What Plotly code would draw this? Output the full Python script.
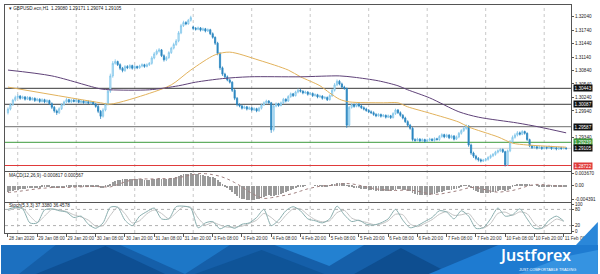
import plotly.graph_objects as go
from plotly.subplots import make_subplots

# ---------------- data (H1 bars, index 0 = 28 Jan 20:00) ----------------
bars = list(range(230))

opens = [
 1.2990, 1.2998, 1.3008, 1.3018, 1.3024, 1.3027, 1.3022, 1.3025, 1.3020, 1.3024,
 1.3019, 1.3022, 1.3017, 1.3020, 1.3015, 1.3019, 1.3014, 1.3017, 1.3010, 1.3002,
 1.2994, 1.2990, 1.2999, 1.3008, 1.3014, 1.3019, 1.3014, 1.3018, 1.3015, 1.3018,
 1.3013, 1.3016, 1.3012, 1.3015, 1.3011, 1.3014, 1.3009, 1.3004, 1.2993, 1.2982,
 1.2996, 1.3009, 1.3038, 1.3072, 1.3100, 1.3104, 1.3097, 1.3089, 1.3084, 1.3093,
 1.3090, 1.3095, 1.3089, 1.3093, 1.3090, 1.3094, 1.3097, 1.3093, 1.3097, 1.3100,
 1.3112, 1.3121, 1.3127, 1.3130, 1.3117, 1.3108, 1.3113, 1.3124, 1.3134, 1.3142,
 1.3150, 1.3168, 1.3184, 1.3191, 1.3188, 1.3196, 1.3181, 1.3178, 1.3176, 1.3179,
 1.3174, 1.3177, 1.3172, 1.3175, 1.3166, 1.3158, 1.3145, 1.3122, 1.3090, 1.3076,
 1.3070, 1.3063, 1.3058, 1.3040, 1.3022, 1.3008, 1.3005, 1.3000, 1.3003, 1.2998,
 1.3001, 1.2996, 1.2999, 1.2994, 1.3000, 1.3007, 1.3012, 1.3016, 1.3012, 1.2952,
 1.3005, 1.3010, 1.3006, 1.3012, 1.3020, 1.3016, 1.3026, 1.3032, 1.3028, 1.3036,
 1.3040, 1.3038, 1.3034, 1.3036, 1.3031, 1.3033, 1.3028, 1.3030, 1.3025, 1.3027,
 1.3022, 1.3024, 1.3019, 1.3028, 1.3040, 1.3052, 1.3060, 1.3054, 1.3047, 1.3044,
 1.2962, 1.3002, 1.3008, 1.3004, 1.3009, 1.3005, 1.3001, 1.2998, 1.2995, 1.2992,
 1.2990, 1.2986, 1.2983, 1.2986, 1.2982, 1.2984, 1.2980, 1.2983, 1.2979, 1.2988,
 1.2996, 1.2990, 1.2984, 1.2978, 1.2970, 1.2962, 1.2955, 1.2930, 1.2928, 1.2931,
 1.2927, 1.2930, 1.2926, 1.2929, 1.2931, 1.2928, 1.2932, 1.2930, 1.2937, 1.2941,
 1.2936, 1.2940, 1.2934, 1.2938, 1.2931, 1.2936, 1.2944, 1.2950, 1.2955, 1.2960,
 1.2918, 1.2900, 1.2893, 1.2888, 1.2885, 1.2882, 1.2884, 1.2886, 1.2890, 1.2894,
 1.2897, 1.2902, 1.2905, 1.2908, 1.2903, 1.2874, 1.2905, 1.2925, 1.2935, 1.2940,
 1.2945, 1.2942, 1.2948, 1.2944, 1.2930, 1.2916, 1.2912, 1.2914, 1.2911, 1.2913,
 1.2910, 1.2913, 1.2911, 1.2914, 1.2910, 1.2912, 1.2909, 1.2912, 1.2910, 1.2911]

highs = [
 1.3002, 1.3011, 1.3021, 1.3028, 1.3031, 1.3029, 1.3028, 1.3027, 1.3027, 1.3026,
 1.3025, 1.3024, 1.3023, 1.3022, 1.3022, 1.3021, 1.3020, 1.3019, 1.3013, 1.3005,
 1.2997, 1.3002, 1.3011, 1.3017, 1.3023, 1.3021, 1.3021, 1.3020, 1.3021, 1.3020,
 1.3019, 1.3018, 1.3018, 1.3017, 1.3017, 1.3016, 1.3012, 1.3007, 1.2996, 1.3000,
 1.3012, 1.3042, 1.3077, 1.3105, 1.3109, 1.3106, 1.3100, 1.3092, 1.3096, 1.3096,
 1.3098, 1.3097, 1.3096, 1.3095, 1.3097, 1.3100, 1.3099, 1.3100, 1.3103, 1.3116,
 1.3125, 1.3131, 1.3134, 1.3132, 1.3120, 1.3116, 1.3127, 1.3137, 1.3146, 1.3154,
 1.3172, 1.3188, 1.3195, 1.3194, 1.3199, 1.3206, 1.3184, 1.3181, 1.3182, 1.3181,
 1.3180, 1.3179, 1.3178, 1.3177, 1.3169, 1.3160, 1.3148, 1.3125, 1.3093, 1.3079,
 1.3073, 1.3066, 1.3060, 1.3043, 1.3025, 1.3011, 1.3008, 1.3006, 1.3005, 1.3004,
 1.3003, 1.3002, 1.3001, 1.3003, 1.3010, 1.3015, 1.3019, 1.3018, 1.3014, 1.3008,
 1.3013, 1.3012, 1.3015, 1.3023, 1.3022, 1.3029, 1.3035, 1.3034, 1.3039, 1.3044,
 1.3043, 1.3040, 1.3039, 1.3038, 1.3036, 1.3035, 1.3033, 1.3032, 1.3030, 1.3029,
 1.3027, 1.3026, 1.3031, 1.3043, 1.3056, 1.3064, 1.3063, 1.3057, 1.3050, 1.3046,
 1.3005, 1.3011, 1.3010, 1.3012, 1.3011, 1.3008, 1.3004, 1.3001, 1.2998, 1.2995,
 1.2993, 1.2989, 1.2989, 1.2988, 1.2987, 1.2986, 1.2986, 1.2985, 1.2991, 1.2999,
 1.2998, 1.2993, 1.2987, 1.2981, 1.2973, 1.2965, 1.2958, 1.2933, 1.2934, 1.2933,
 1.2933, 1.2932, 1.2932, 1.2934, 1.2933, 1.2935, 1.2934, 1.2940, 1.2944, 1.2943,
 1.2943, 1.2942, 1.2941, 1.2940, 1.2939, 1.2947, 1.2953, 1.2959, 1.2964, 1.2962,
 1.2921, 1.2903, 1.2896, 1.2891, 1.2888, 1.2887, 1.2889, 1.2893, 1.2897, 1.2900,
 1.2905, 1.2908, 1.2911, 1.2910, 1.2905, 1.2908, 1.2929, 1.2939, 1.2944, 1.2949,
 1.2948, 1.2951, 1.2950, 1.2946, 1.2932, 1.2918, 1.2917, 1.2916, 1.2916, 1.2915,
 1.2916, 1.2915, 1.2917, 1.2916, 1.2915, 1.2914, 1.2915, 1.2914, 1.2914, 1.2913]

lows = [
 1.2986, 1.2995, 1.3005, 1.3015, 1.3021, 1.3019, 1.3020, 1.3017, 1.3018, 1.3016,
 1.3017, 1.3014, 1.3015, 1.3012, 1.3013, 1.3011, 1.3012, 1.3007, 1.2998, 1.2990,
 1.2985, 1.2987, 1.2996, 1.3005, 1.3011, 1.3012, 1.3011, 1.3013, 1.3012, 1.3011,
 1.3010, 1.3010, 1.3009, 1.3009, 1.3008, 1.3007, 1.3001, 1.2989, 1.2976, 1.2979,
 1.2993, 1.3006, 1.3034, 1.3068, 1.3097, 1.3094, 1.3085, 1.3080, 1.3081, 1.3087,
 1.3087, 1.3086, 1.3087, 1.3087, 1.3088, 1.3091, 1.3090, 1.3091, 1.3094, 1.3097,
 1.3109, 1.3118, 1.3124, 1.3114, 1.3104, 1.3105, 1.3110, 1.3121, 1.3131, 1.3139,
 1.3147, 1.3165, 1.3181, 1.3185, 1.3186, 1.3193, 1.3174, 1.3173, 1.3174, 1.3171,
 1.3172, 1.3169, 1.3170, 1.3163, 1.3155, 1.3141, 1.3118, 1.3085, 1.3072, 1.3067,
 1.3060, 1.3055, 1.3036, 1.3018, 1.3004, 1.3002, 1.2997, 1.2998, 1.2995, 1.2996,
 1.2993, 1.2994, 1.2991, 1.2992, 1.2997, 1.3005, 1.3009, 1.3010, 1.2945, 1.2948,
 1.3002, 1.3003, 1.3004, 1.3009, 1.3013, 1.3014, 1.3023, 1.3025, 1.3026, 1.3033,
 1.3035, 1.3031, 1.3032, 1.3028, 1.3029, 1.3025, 1.3026, 1.3022, 1.3023, 1.3019,
 1.3020, 1.3016, 1.3017, 1.3025, 1.3037, 1.3049, 1.3051, 1.3044, 1.3041, 1.2956,
 1.2959, 1.2999, 1.3001, 1.3002, 1.3002, 1.2998, 1.2995, 1.2992, 1.2989, 1.2987,
 1.2983, 1.2980, 1.2981, 1.2979, 1.2980, 1.2977, 1.2978, 1.2976, 1.2977, 1.2985,
 1.2987, 1.2981, 1.2975, 1.2967, 1.2959, 1.2952, 1.2926, 1.2925, 1.2926, 1.2924,
 1.2925, 1.2923, 1.2924, 1.2926, 1.2926, 1.2925, 1.2928, 1.2927, 1.2934, 1.2933,
 1.2934, 1.2931, 1.2932, 1.2928, 1.2929, 1.2933, 1.2941, 1.2947, 1.2952, 1.2914,
 1.2896, 1.2889, 1.2884, 1.2881, 1.2879, 1.2880, 1.2881, 1.2883, 1.2887, 1.2891,
 1.2894, 1.2899, 1.2902, 1.2900, 1.2870, 1.2871, 1.2902, 1.2922, 1.2932, 1.2937,
 1.2939, 1.2940, 1.2941, 1.2927, 1.2913, 1.2909, 1.2910, 1.2908, 1.2909, 1.2907,
 1.2908, 1.2908, 1.2909, 1.2907, 1.2908, 1.2906, 1.2907, 1.2907, 1.2908, 1.2907]

closes = [
 1.2998, 1.3008, 1.3018, 1.3024, 1.3027, 1.3022, 1.3025, 1.3020, 1.3024, 1.3019,
 1.3022, 1.3017, 1.3020, 1.3015, 1.3019, 1.3014, 1.3017, 1.3010, 1.3002, 1.2994,
 1.2990, 1.2999, 1.3008, 1.3014, 1.3019, 1.3014, 1.3018, 1.3015, 1.3018, 1.3013,
 1.3016, 1.3012, 1.3015, 1.3011, 1.3014, 1.3009, 1.3004, 1.2993, 1.2982, 1.2996,
 1.3009, 1.3038, 1.3072, 1.3100, 1.3104, 1.3097, 1.3089, 1.3084, 1.3093, 1.3090,
 1.3095, 1.3089, 1.3093, 1.3090, 1.3094, 1.3097, 1.3093, 1.3097, 1.3100, 1.3112,
 1.3121, 1.3127, 1.3130, 1.3117, 1.3108, 1.3113, 1.3124, 1.3134, 1.3142, 1.3150,
 1.3168, 1.3184, 1.3191, 1.3188, 1.3196, 1.3202, 1.3178, 1.3176, 1.3179, 1.3174,
 1.3177, 1.3172, 1.3175, 1.3166, 1.3158, 1.3145, 1.3122, 1.3090, 1.3076, 1.3070,
 1.3063, 1.3058, 1.3040, 1.3022, 1.3008, 1.3005, 1.3000, 1.3003, 1.2998, 1.3001,
 1.2996, 1.2999, 1.2994, 1.3000, 1.3007, 1.3012, 1.3016, 1.3012, 1.2952, 1.3005,
 1.3010, 1.3006, 1.3012, 1.3020, 1.3016, 1.3026, 1.3032, 1.3028, 1.3036, 1.3040,
 1.3038, 1.3034, 1.3036, 1.3031, 1.3033, 1.3028, 1.3030, 1.3025, 1.3027, 1.3022,
 1.3024, 1.3019, 1.3028, 1.3040, 1.3052, 1.3060, 1.3054, 1.3047, 1.3044, 1.2962,
 1.3002, 1.3008, 1.3004, 1.3009, 1.3005, 1.3001, 1.2998, 1.2995, 1.2992, 1.2990,
 1.2986, 1.2983, 1.2986, 1.2982, 1.2984, 1.2980, 1.2983, 1.2979, 1.2988, 1.2996,
 1.2990, 1.2984, 1.2978, 1.2970, 1.2962, 1.2955, 1.2930, 1.2928, 1.2931, 1.2927,
 1.2930, 1.2926, 1.2929, 1.2931, 1.2928, 1.2932, 1.2930, 1.2937, 1.2941, 1.2936,
 1.2940, 1.2934, 1.2938, 1.2931, 1.2936, 1.2944, 1.2950, 1.2955, 1.2960, 1.2918,
 1.2900, 1.2893, 1.2888, 1.2885, 1.2882, 1.2884, 1.2886, 1.2890, 1.2894, 1.2897,
 1.2902, 1.2905, 1.2908, 1.2903, 1.2874, 1.2905, 1.2925, 1.2935, 1.2940, 1.2945,
 1.2942, 1.2948, 1.2944, 1.2930, 1.2916, 1.2912, 1.2914, 1.2911, 1.2913, 1.2910,
 1.2913, 1.2911, 1.2914, 1.2910, 1.2912, 1.2909, 1.2912, 1.2910, 1.2911, 1.2910]

# moving averages read at selected bars
ma_fast_x = [0, 38, 42, 58, 67, 75, 85, 91, 103, 115, 120, 128, 132, 136, 140,
             154, 160, 164, 173, 185, 189, 201, 207, 213, 229]
ma_fast_y = [1.3047, 1.3012, 1.3009, 1.3033, 1.3052, 1.3085, 1.3119, 1.3125, 1.3107,
             1.3085, 1.3070, 1.3050, 1.3034, 1.3020, 1.3014, 1.3012, 1.3012, 1.3003,
             1.2989, 1.2969, 1.2958, 1.2936, 1.2922, 1.2918, 1.2913]
ma_slow_x = [0, 18, 38, 42, 58, 70, 77, 88, 99, 120, 136, 142, 152, 160, 164, 173,
             185, 193, 209, 218, 229]
ma_slow_y = [1.3085, 1.3072, 1.3043, 1.3041, 1.3041, 1.3050, 1.3058, 1.3066, 1.3070,
             1.3070, 1.3072, 1.3069, 1.3061, 1.3050, 1.3041, 1.3023, 1.2992, 1.2980,
             1.2967, 1.2958, 1.2945]

# horizontal levels
level_dark = [1.30443, 1.30087]
level_gray = 1.29587
level_green = 1.29239
level_red = 1.28722
bid_price = 1.29105

# MACD (units of 1e-4)
macd_hist_e4 = [
 -19, -18, -16, -15, -13, -12, -11, -10, -9, -9,
 -8, -8, -7, -7, -6, -6, -6, -6, -7, -8,
 -9, -9, -8, -7, -6, -5, -5, -4, -4, -4,
 -4, -4, -4, -4, -4, -4, -5, -6, -8, -8,
 -6, -2, 4, 10, 14, 17, 18, 19, 20, 20,
 20, 20, 19, 19, 19, 19, 18, 18, 18, 19,
 20, 21, 22, 21, 20, 20, 21, 22, 24, 26,
 29, 32, 34, 35, 36, 37, 36, 35, 34, 33,
 32, 30, 29, 27, 25, 22, 17, 10, 4, -2,
 -8, -13, -20, -27, -33, -37, -40, -42, -43, -44,
 -44, -43, -42, -40, -37, -34, -31, -29, -33, -32,
 -30, -28, -26, -23, -21, -18, -14, -11, -8, -5,
 -3, -2, -1, 0, 0, 0, -1, -1, -1, -2,
 -2, -2, -1, 2, 5, 8, 9, 9, 9, 1,
 -3, -5, -7, -8, -9, -10, -11, -12, -13, -14,
 -15, -16, -16, -17, -17, -17, -17, -17, -15, -13,
 -12, -12, -13, -14, -16, -18, -23, -26, -28, -30,
 -30, -30, -29, -28, -27, -25, -23, -21, -19, -17,
 -15, -14, -13, -12, -10, -7, -4, -1, 1, -3,
 -8, -13, -17, -20, -23, -24, -24, -24, -23, -21,
 -19, -17, -15, -13, -17, -15, -10, -5, -1, 2,
 4, 5, 6, 5, 3, 1, 0, -1, -2, -2,
 -2, -3, -3, -3, -3, -3, -3, -3, -3, -3]
sample_x = list(range(0, 229, 3))
macd_sig_e4 = [
 -22, -20, -17, -14, -11, -9, -7, -7, -7, -6,
 -5, -4, -4, -5, -5, 2, 10, 16, 19, 19,
 19, 20, 20, 22, 26, 31, 35, 35, 32, 27,
 19, 8, -5, -20, -32, -40, -38, -34, -30, -25,
 -18, -11, -6, -2, -1, 1, 5, 4, 0, -5,
 -10, -13, -15, -16, -15, -15, -18, -23, -27, -27,
 -23, -19, -14, -8, -7, -12, -18, -21, -19, -16,
 -10, -3, 2, 2, 0, -2, -3]

# Stochastic (5,3,3)
stoch_k = [
 80, 88, 82, 30, 30, 78, 82, 75, 70, 50,
 55, 25, 10, 30, 88, 88, 40, 20, 55, 72,
 85, 45, 45, 90, 92, 85, 12, 30, 35, 8,
 20, 10, 25, 30, 50, 80, 20, 40, 75, 90,
 75, 45, 38, 30, 45, 92, 60, 35, 40, 25,
 22, 30, 45, 80, 40, 12, 20, 35, 50, 75,
 70, 45, 75, 55, 10, 12, 45, 85, 55, 60,
 82, 45, 10, 10, 40, 55, 37]
stoch_d = [
 75, 84, 85, 56, 32, 55, 80, 78, 72, 60,
 52, 40, 18, 20, 58, 88, 64, 30, 38, 64,
 78, 65, 45, 68, 90, 88, 48, 22, 32, 22,
 14, 15, 18, 28, 40, 65, 50, 30, 58, 82,
 82, 60, 42, 34, 38, 68, 76, 48, 38, 32,
 24, 26, 38, 62, 60, 26, 16, 28, 42, 62,
 72, 58, 60, 65, 32, 11, 28, 65, 70, 58,
 71, 64, 28, 10, 25, 44, 36]

date_bars = list(range(0, 229, 12))
date_labels = ["28 Jan 2020", "29 Jan 08:00", "29 Jan 20:00", "30 Jan 08:00", "30 Jan 20:00",
               "31 Jan 08:00", "31 Jan 20:00", "3 Feb 08:00", "3 Feb 20:00", "4 Feb 08:00",
               "4 Feb 20:00", "5 Feb 08:00", "5 Feb 20:00", "6 Feb 08:00", "6 Feb 20:00",
               "7 Feb 08:00", "7 Feb 20:00", "10 Feb 08:00", "10 Feb 20:00", "11 Feb 08:00"]
day_start_bars = [4, 28, 52, 76, 100, 124, 148, 172, 196, 220]
# price-axis labels (those hidden under the level boxes are left out)
price_ticks = [1.32040, 1.31740, 1.31440, 1.31140, 1.30840, 1.30540, 1.30240,
               1.29940, 1.29340]

assert len(opens) == len(highs) == len(lows) == len(closes) == len(macd_hist_e4) == 230
assert len(sample_x) == len(macd_sig_e4) == len(stoch_k) == len(stoch_d)

# ---------------- figure ----------------
FONT = "Liberation Sans"
PL, PR, PT, PB = 4, 573, 5, 233


def px(x):
    return (x - PL) / (PR - PL)


def py(y):
    return (PB - y) / (PB - PT)


fig = make_subplots(rows=3, cols=1, shared_xaxes=True, vertical_spacing=0)

fig.add_trace(go.Scatter(x=ma_fast_x, y=ma_fast_y, mode="lines", hoverinfo="skip",
                         line=dict(color="#e2b25c", width=1, shape="spline", smoothing=0.8)),
              row=1, col=1)
fig.add_trace(go.Scatter(x=ma_slow_x, y=ma_slow_y, mode="lines", hoverinfo="skip",
                         line=dict(color="#5f4278", width=1, shape="spline", smoothing=0.8)),
              row=1, col=1)
fig.add_trace(go.Candlestick(
    x=bars, open=opens, high=highs, low=lows, close=closes, whiskerwidth=0,
    increasing=dict(line=dict(color="#7cc4ea", width=0.8), fillcolor="#d6eefa"),
    decreasing=dict(line=dict(color="#2b86c0", width=0.8), fillcolor="#2b86c0"),
    hoverinfo="skip"), row=1, col=1)

fig.add_trace(go.Bar(x=bars, y=[v * 1e-4 for v in macd_hist_e4], width=0.35,
                     marker=dict(color="#9a9a9a", line=dict(width=0)), hoverinfo="skip"),
              row=2, col=1)
fig.add_trace(go.Scatter(x=sample_x, y=[v * 1e-4 for v in macd_sig_e4], mode="lines",
                         hoverinfo="skip",
                         line=dict(color="#a08080", width=1, dash="dot", shape="spline")),
              row=2, col=1)

fig.add_trace(go.Scatter(x=sample_x, y=stoch_d, mode="lines", hoverinfo="skip",
                         line=dict(color="#c2c2c2", width=1, shape="spline", smoothing=0.7)),
              row=3, col=1)
fig.add_trace(go.Scatter(x=sample_x, y=stoch_k, mode="lines", hoverinfo="skip",
                         line=dict(color="#8aaeae", width=1, shape="spline", smoothing=0.7)),
              row=3, col=1)

shapes = []
for b in day_start_bars:
    shapes.append(dict(type="line", xref="x", yref="paper", x0=b, x1=b, y0=0, y1=1,
                       line=dict(color="#c8c8c8", width=1, dash="dot"), layer="below"))
for lv in level_dark:
    shapes.append(dict(type="line", xref="paper", yref="y", x0=0, x1=1, y0=lv, y1=lv,
                       line=dict(color="#3a3a3a", width=1), layer="below"))
shapes.append(dict(type="line", xref="paper", yref="y", x0=0, x1=1, y0=level_gray, y1=level_gray,
                   line=dict(color="#8a8a8a", width=1.3), layer="below"))
shapes.append(dict(type="line", xref="paper", yref="y", x0=0, x1=1, y0=level_green, y1=level_green,
                   line=dict(color="#3c9a3c", width=1), layer="below"))
shapes.append(dict(type="line", xref="paper", yref="y", x0=0, x1=1, y0=bid_price, y1=bid_price,
                   line=dict(color="#d4d4d4", width=1), layer="below"))
shapes.append(dict(type="line", xref="paper", yref="y", x0=0, x1=1, y0=level_red, y1=level_red,
                   line=dict(color="#e03a3a", width=1), layer="below"))
for lv in (20, 80):
    shapes.append(dict(type="line", xref="paper", yref="y3", x0=0, x1=1, y0=lv, y1=lv,
                       line=dict(color="#b0b0b0", width=1, dash="dot"), layer="below"))


def poly(pts, color):
    d = "M " + " L ".join(f"{px(x):.5f},{py(y):.5f}" for x, y in pts) + " Z"
    return dict(type="path", xref="paper", yref="paper", path=d, fillcolor=color,
                line=dict(width=0), layer="above")


# banner (decoration)
shapes += [
    poly([(0, 245), (600, 245), (600, 274), (0, 274)], "#155fa9"),
    poly([(0, 245), (55, 245), (18, 274), (0, 274)], "#1c70c0"),
    poly([(35, 274), (105, 246), (165, 274)], "#0e4f93"),
    poly([(120, 245), (230, 245), (185, 274)], "#1d77c7"),
    poly([(195, 274), (262, 250), (325, 274)], "#0f5498"),
    poly([(275, 245), (365, 245), (330, 266)], "#2381d1"),
    poly([(355, 274), (402, 248), (452, 274)], "#0e4e90"),
    poly([(430, 274), (500, 245), (600, 245), (600, 274)], "#1e7bd1"),
    poly([(520, 274), (565, 257), (600, 250), (600, 274)], "#3593e1"),
    poly([(578, 245), (600, 222), (600, 245)], "#2a87d9"),
]

ann = []
small = dict(family=FONT, size=4.6, color="#222")
ann.append(dict(xref="paper", yref="paper", x=px(6), y=py(8.5), xanchor="left", yanchor="middle",
                text="▾ GBPUSD.ecn,H1  1.29080 1.29171 1.29074 1.29105", showarrow=False,
                font=small))
ann.append(dict(xref="paper", yref="paper", x=px(6), y=py(175), xanchor="left", yanchor="middle",
                text="MACD(12,26,9) -0.000817 0.000567", showarrow=False, font=small))
ann.append(dict(xref="paper", yref="paper", x=px(6), y=py(205.5), xanchor="left", yanchor="middle",
                text="Stoch(5,3,3) 37.3380 36.4578", showarrow=False, font=small))


def price_box(price, bg):
    return dict(xref="paper", yref="y", x=1, y=price, xanchor="left", yanchor="middle",
                xshift=2, text=f"{price:.5f}", showarrow=False, bgcolor=bg, borderpad=0.6,
                font=dict(family=FONT, size=4.6, color="white"))


for lv in level_dark:
    ann.append(price_box(lv, "#111111"))
ann.append(price_box(level_gray, "#111111"))
ann.append(price_box(level_green, "#3c9a3c"))
ann.append(price_box(bid_price, "#111111"))
ann.append(price_box(level_red, "#e03a3a"))

ann.append(dict(xref="paper", yref="paper", x=px(537), y=py(255), xanchor="center",
                yanchor="middle", text="Justforex", showarrow=False,
                font=dict(family="Noto Sans", size=16, color="white", weight=600)))
ann.append(dict(xref="paper", yref="paper", x=px(580), y=py(270), xanchor="right",
                yanchor="middle", text="JUST COMFORTABLE TRADING", showarrow=False,
                font=dict(family=FONT, size=3.8, color="white")))

fig.update_layout(
    width=600, height=274, margin=dict(l=PL, r=600 - PR, t=PT, b=274 - PB),
    plot_bgcolor="white", paper_bgcolor="white", showlegend=False, bargap=0,
    font=dict(family=FONT, size=4.6, color="#222"),
    shapes=shapes, annotations=ann,
)

axis_common = dict(showline=True, mirror=True, linecolor="#555555", linewidth=1,
                   showgrid=False, zeroline=False)
for name in ["xaxis", "xaxis2", "xaxis3"]:
    fig.layout[name].update(range=[-1.22, 231.0], rangeslider=dict(visible=False),
                            fixedrange=True, **axis_common)
fig.layout.xaxis.update(showticklabels=False, ticks="")
fig.layout.xaxis2.update(showticklabels=False, ticks="")
fig.layout.xaxis3.update(tickmode="array", tickvals=date_bars, ticktext=date_labels,
                         ticks="outside", ticklen=3, tickcolor="#555555", tickangle=0,
                         ticklabelposition="outside right",
                         tickfont=dict(family=FONT, size=4.6, color="#333"))

fig.layout.yaxis.update(domain=[py(170.7), 1.0], range=[1.28606, 1.32301], side="right",
                        tickmode="array", tickvals=price_ticks, tickformat=".5f",
                        ticks="outside", ticklen=2, tickcolor="#555555",
                        tickfont=dict(family=FONT, size=4.6, color="#222"), **axis_common)
fig.layout.yaxis2.update(domain=[py(201.7), py(171.7)], range=[-0.0050, 0.0041], side="right",
                         tickmode="array", tickvals=[0.00367, 0.0, -0.004391],
                         ticktext=["0.003670", "0.00", "-0.004391"],
                         ticks="outside", ticklen=2, tickcolor="#555555",
                         tickfont=dict(family=FONT, size=4.6, color="#222"), **axis_common)
fig.layout.yaxis3.update(domain=[0.0, py(202.7)], range=[-7.4, 104.8], side="right",
                         tickmode="array", tickvals=[100, 80, 20, 0],
                         ticktext=["100", "80", "20", "0"],
                         ticks="outside", ticklen=2, tickcolor="#555555",
                         tickfont=dict(family=FONT, size=4.6, color="#222"), **axis_common)

fig.write_html("out.html")
